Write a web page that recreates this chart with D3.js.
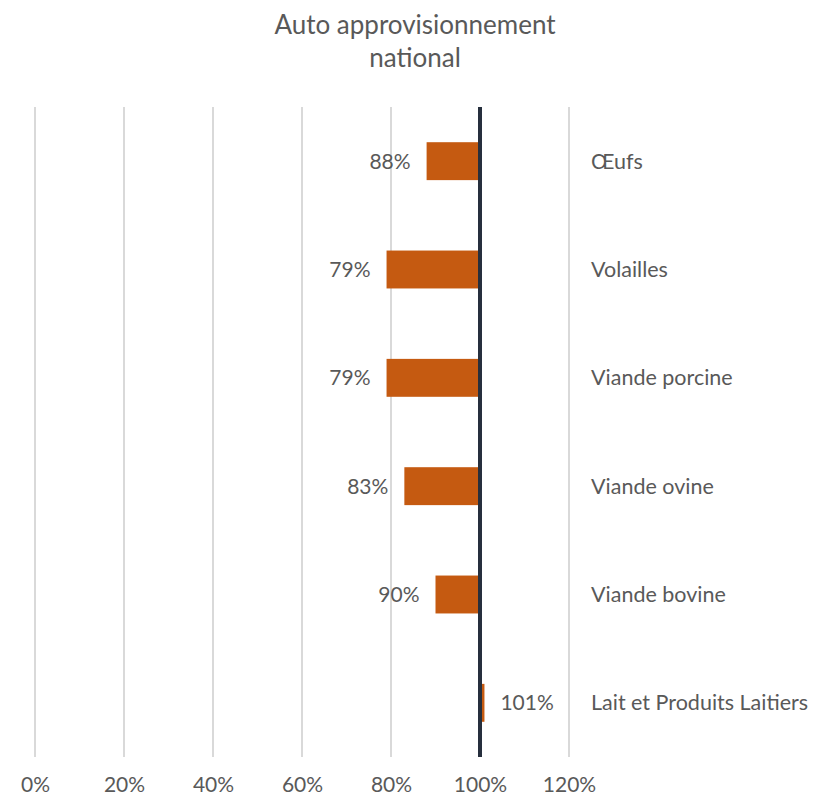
<!DOCTYPE html>
<html>
<head>
<meta charset="utf-8">
<script src="https://cdn.jsdelivr.net/npm/d3@7"></script>
<style>
  body { margin: 0; background: #fff; }
  text { font-family: Lato, "Open Sans", sans-serif; fill: #595959; }
</style>
</head>
<body>
<div id="chart"></div>
<script>
// donnees
var categories = ["Œufs", "Volailles", "Viande porcine", "Viande ovine", "Viande bovine", "Lait et Produits Laitiers"];
var valeurs = [0.88, 0.79, 0.79, 0.83, 0.90, 1.01];
var ticks = [0, 0.2, 0.4, 0.6, 0.8, 1.0, 1.2];

var W = 820, H = 797;
var margin = {top: 107, left: 35, right: 251, bottom: 40};
var width = W - margin.left - margin.right,
    height = H - margin.top - margin.bottom;

var svg = d3.select("#chart").append("svg")
    .attr("width", W).attr("height", H);

// titre
svg.append("text").attr("x", 415).attr("y", 34)
   .attr("text-anchor", "middle").style("font-size", "26px")
   .text("Auto approvisionnement");
svg.append("text").attr("x", 415).attr("y", 67)
   .attr("text-anchor", "middle").style("font-size", "26px")
   .text("national");

var g = svg.append("g").attr("transform", "translate(" + margin.left + "," + margin.top + ")");

var x = d3.scaleLinear().domain([0, 1.2]).range([0, 534]);
var y = d3.scaleBand().domain(categories).range([0, height]).paddingInner(0.65).paddingOuter(0.325);

// grille verticale
g.selectAll(".grid").data(ticks).enter().append("line")
  .attr("x1", d => x(d)).attr("x2", d => x(d))
  .attr("y1", 0).attr("y2", height)
  .attr("stroke", "#d9d9d9").attr("stroke-width", 2);

// axe x
var xAxis = d3.axisBottom(x).tickValues(ticks).tickFormat(d3.format(".0%")).tickSize(0).tickPadding(20);
g.append("g").attr("transform", "translate(0," + height + ")").call(xAxis)
  .call(a => a.select(".domain").remove())
  .selectAll("text").style("font-size", "21px").attr("fill", "#595959");

// barres (divergentes autour de 100%)
g.selectAll(".bar").data(valeurs).enter().append("rect")
  .attr("x", d => x(Math.min(d, 1)))
  .attr("width", d => Math.abs(x(d) - x(1)))
  .attr("y", (d, i) => y(categories[i]))
  .attr("height", y.bandwidth())
  .attr("fill", "#C55A11");

// ligne 100%
g.append("line")
  .attr("x1", x(1)).attr("x2", x(1)).attr("y1", 0).attr("y2", height)
  .attr("stroke", "#262f3d").attr("stroke-width", 4);

// etiquettes des valeurs
g.selectAll(".val").data(valeurs).enter().append("text")
  .attr("x", d => d < 1 ? x(d) - 16 : x(d) + 16)
  .attr("y", (d, i) => y(categories[i]) + y.bandwidth() / 2)
  .attr("dy", "0.35em")
  .attr("text-anchor", d => d < 1 ? "end" : "start")
  .style("font-size", "21px")
  .text(d => Math.round(d * 100) + "%");

// etiquettes des categories
g.selectAll(".cat").data(categories).enter().append("text")
  .attr("x", 556)
  .attr("y", d => y(d) + y.bandwidth() / 2)
  .attr("dy", "0.35em")
  .style("font-size", "21.5px")
  .text(d => d);
</script>
</body>
</html>
